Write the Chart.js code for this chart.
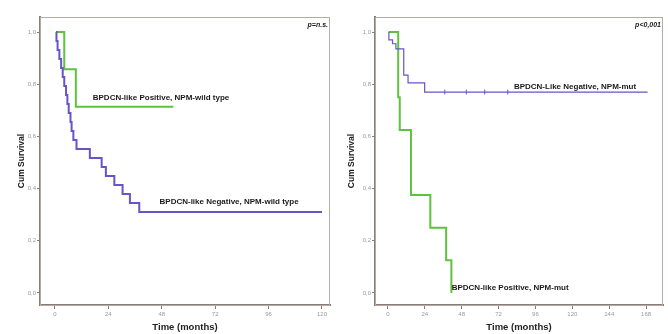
<!DOCTYPE html>
<html>
<head>
<meta charset="utf-8">
<script src="https://cdn.jsdelivr.net/npm/chart.js@4/dist/chart.umd.min.js"></script>
<style>
  html, body { margin: 0; padding: 0; background: #fff; }
  .panel { position: absolute; top: 0; width: 334px; height: 334px; }
</style>
</head>
<body>
<div class="panel" style="left:0"><canvas id="km_left" width="334" height="334"></canvas></div>
<div class="panel" style="left:334px"><canvas id="km_right" width="334" height="334"></canvas></div>
<script>
// tick labels
var yTicks = [0, 0.2, 0.4, 0.6, 0.8, 1.0];
var leftTicksX = [0, 24, 48, 72, 96, 120];
var rightTicksX = [0, 24, 48, 72, 96, 120, 144, 168];

// left panel: NPM-wild type
var leftPosMonths = [0.7, 4.2, 9.4, 53.2];
var leftPosSurv = [1.0, 0.857, 0.714, 0.714];

var leftNegMonths = [0.5, 0.7, 1.2, 2.0, 2.8, 3.5, 4.2, 5.0, 5.6, 6.2, 7.0, 7.5, 8.3, 9.7, 15.7, 21.0, 22.9, 26.7, 30.4, 33.7, 37.9, 120];
var leftNegSurv = [1.0, 0.966, 0.931, 0.897, 0.862, 0.828, 0.793, 0.759, 0.724, 0.690, 0.655, 0.621, 0.586, 0.552, 0.517, 0.483, 0.448, 0.414, 0.379, 0.345, 0.310, 0.310];

// right panel: NPM-mut
var rightNegMonths = [0.5, 0.65, 3.0, 5.2, 10.3, 13.1, 23.9, 169];
var rightNegSurv = [1.0, 0.97, 0.955, 0.935, 0.835, 0.805, 0.77, 0.77];
var rightNegCensored = [37, 51, 63, 78];

var rightPosMonths = [0.5, 6.7, 7.7, 15.0, 27.6, 37.9, 41.3];
var rightPosSurv = [1.0, 0.75, 0.625, 0.375, 0.25, 0.125, 0.0];

var GREEN = '#5dc23c';
var BLUE = '#6655c8';
var AXIS = '#8a7d78';

function points(xs, ys) {
    return xs.map(function (x, i) { return { x: x, y: ys[i] }; });
}

var textPlugin = {
    id: 'kmText',
    afterDatasetsDraw: function (chart, args, opts) {
        var ctx = chart.ctx, xs = chart.scales.x, ys = chart.scales.y, a = chart.chartArea;
        ctx.save();
        // frame
        ctx.strokeStyle = '#b3aaa6';
        ctx.lineWidth = 1;
        ctx.strokeRect(a.left + 0.5, a.top + 0.5, a.right - a.left - 1, a.bottom - a.top);
        ctx.fillStyle = '#1a1a1a';
        ctx.textBaseline = 'middle';
        ctx.font = 'bold 8px "Liberation Sans", Arial, sans-serif';
        opts.labels.forEach(function (l) {
            ctx.textAlign = 'left';
            ctx.fillText(l.text, xs.getPixelForValue(l.x), ys.getPixelForValue(l.y));
        });
        ctx.font = 'italic bold 7px "Liberation Sans", Arial, sans-serif';
        ctx.textAlign = 'right';
        ctx.fillText(opts.pText, a.right - 2, a.top + 8);
        ctx.restore();
    }
};

function getChartJs(side) {
    var left = side === 'left';
    var datasets = left ? [{
        data: points(leftNegMonths, leftNegSurv),
        borderColor: BLUE, borderWidth: 2
    }, {
        data: points(leftPosMonths, leftPosSurv),
        borderColor: GREEN, borderWidth: 2
    }] : [{
        data: points(rightNegMonths, rightNegSurv),
        borderColor: BLUE, borderWidth: 1.2
    }, {
        data: points(rightPosMonths, rightPosSurv),
        borderColor: GREEN, borderWidth: 2
    }, {
        type: 'scatter',
        data: rightNegCensored.map(function (m) { return { x: m, y: rightNegSurv[rightNegSurv.length - 1] }; }),
        pointStyle: 'line', rotation: 90, pointRadius: 2.5,
        borderColor: BLUE, borderWidth: 1, showLine: false
    }];
    datasets.forEach(function (d) {
        if (!d.type) { d.stepped = 'before'; d.pointRadius = 0; d.fill = false; }
    });
    var xTicks = left ? leftTicksX : rightTicksX;

    return {
        type: 'line',
        data: { datasets: datasets },
        plugins: [textPlugin],
        options: {
            responsive: false,
            animation: false,
            layout: { padding: { top: 17, right: left ? 4 : 3, left: 0, bottom: 0 } },
            plugins: {
                legend: { display: false },
                tooltip: { enabled: false },
                kmText: {
                    pText: left ? 'p=n.s.' : 'p<0,001',
                    labels: left ? [
                        { text: 'BPDCN-like Positive, NPM-wild type', x: 17, y: 0.747 },
                        { text: 'BPDCN-like Negative, NPM-wild type', x: 47, y: 0.349 }
                    ] : [
                        { text: 'BPDCN-Like Negative, NPM-mut', x: 82, y: 0.79 },
                        { text: 'BPDCN-like Positive, NPM-mut', x: 41.5, y: 0.02 }
                    ]
                }
            },
            scales: {
                x: {
                    type: 'linear',
                    min: left ? -6.7 : -8.4,
                    max: left ? 123.6 : 179,
                    afterBuildTicks: function (s) { s.ticks = xTicks.map(function (v) { return { value: v }; }); },
                    afterFit: function (s) { s.height = 29; },
                    grid: { drawOnChartArea: false, drawTicks: true, tickLength: 4, color: AXIS },
                    border: { display: true, color: AXIS, width: 2 },
                    ticks: { color: '#999', font: { size: 6, family: 'Liberation Sans' }, padding: 2, maxRotation: 0 },
                    title: { display: true, text: 'Time (months)', color: '#222',
                        font: { size: 9.5, weight: 'bold', family: 'Liberation Sans' }, padding: { top: 0, bottom: 1.3 } }
                },
                y: {
                    type: 'linear',
                    min: -0.046,
                    max: 1.0575,
                    afterBuildTicks: function (s) { s.ticks = yTicks.map(function (v) { return { value: v }; }); },
                    afterFit: function (s) { s.width = left ? 40 : 41; },
                    grid: { drawOnChartArea: false, drawTicks: true, tickLength: 3, color: AXIS },
                    border: { display: true, color: AXIS, width: 2 },
                    ticks: {
                        color: '#999', font: { size: 6, family: 'Liberation Sans' }, padding: 1,
                        callback: function (v) { return v.toFixed(1).replace('.', ','); }
                    },
                    title: { display: true, text: 'Cum Survival', color: '#222',
                        font: { size: 8.5, weight: 'bold', family: 'Liberation Sans' }, padding: { top: left ? 17 : 13, bottom: 0 } }
                }
            }
        }
    };
}

new Chart(document.getElementById("km_left").getContext("2d"), getChartJs('left'));
new Chart(document.getElementById("km_right").getContext("2d"), getChartJs('right'));
</script>
</body>
</html>
